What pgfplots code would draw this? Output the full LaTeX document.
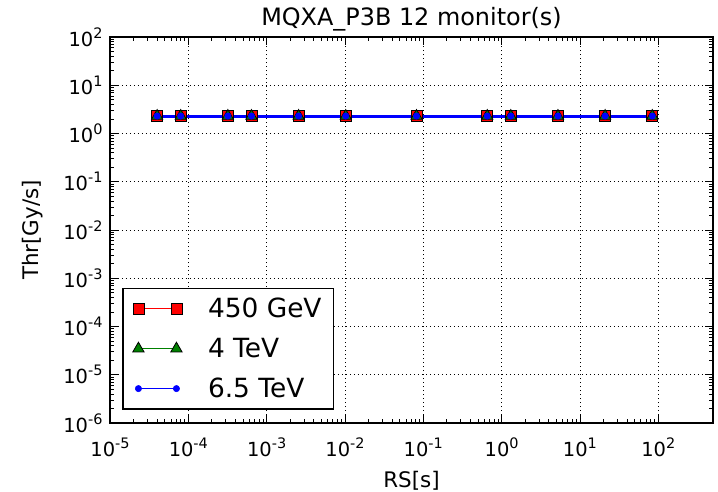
\documentclass[border=0pt]{standalone}
\usepackage{fontspec}
\setmainfont{DejaVu Sans}
\usepackage{pgfplots}
\usepackage{pgfplotstable}
\pgfplotsset{compat=1.18}
\newcommand\sci[1]{10\raisebox{0.42em}{\fontsize{14.5}{14}\selectfont #1}}
\pgfplotstableread{
x y
4e-5 2.3
8e-5 2.3
3.2e-4 2.3
6.4e-4 2.3
2.56e-3 2.3
1.024e-2 2.3
8.192e-2 2.3
0.65536 2.3
1.31072 2.3
5.24288 2.3
20.97152 2.3
83.88608 2.3
}\thr
\begin{document}
\begin{tikzpicture}
\useasboundingbox (-110bp,-69bp) rectangle (608bp,423bp);
\begin{axis}[
  at={(0,0)}, anchor=south west,
  width=603bp, height=386bp, scale only axis,
  xmode=log, ymode=log,
  xmin=1e-5, xmax=500, ymin=1e-6, ymax=1e2,
  xtick={1e-5,1e-4,1e-3,1e-2,1e-1,1,10,100},
  xticklabels={\sci{-5},\sci{-4},\sci{-3},\sci{-2},\sci{-1},\sci{0},\sci{1},\sci{2}},
  ytick={1e-6,1e-5,1e-4,1e-3,1e-2,1e-1,1,10,100},
  yticklabels={\sci{-6},\sci{-5},\sci{-4},\sci{-3},\sci{-2},\sci{-1},\sci{0},\sci{1},\sci{2}},
  tick label style={font=\fontsize{19.5}{24}\selectfont},
  xticklabel style={yshift=-11bp},
  yticklabel style={xshift=-4bp},
  tick align=inside,
  major tick length=8bp, minor tick length=4bp,
  every tick/.style={black, line width=0.8bp},
  axis line style={black, line width=1.5bp},
  grid=major,
  major grid style={black, line width=0.8bp, dash pattern=on 1bp off 3bp},
  title={MQXA\_P3B 12 monitor(s)},
  title style={font=\fontsize{24}{28}\selectfont, at={(0.5,1)}, anchor=base, yshift=6bp},
  xlabel={RS[s]},
  ylabel={Thr[Gy/s]},
  label style={font=\fontsize{21.5}{25}\selectfont},
  xlabel style={yshift=-8bp},
  ylabel style={yshift=14bp},
  legend style={at={(0.02,0.034)}, anchor=south west, draw=black, line width=1.5bp,
    font=\fontsize{26.5}{30}\selectfont, row sep=15bp, column sep=24bp,
    inner xsep=10bp, inner ysep=8bp},
  legend cell align=left,
  legend image code/.code={\draw[line width=1.2bp] plot coordinates {(0bp,0bp) (38bp,0bp)};},
]
\addplot[red, line width=1.2bp, mark=square*, mark size=5.5bp,
  mark options={fill=red, draw=black, line width=0.8bp}] table {\thr};
\addlegendentry{450 GeV}
\addplot[green!50!black, line width=1.2bp, mark=triangle*, mark size=6.5bp,
  mark options={fill=green!50!black, draw=black, line width=0.8bp}] table {\thr};
\addlegendentry{4 TeV}
\addplot[blue, line width=3bp, mark=*, mark size=3.2bp,
  mark options={fill=blue, draw=blue, line width=0.5bp}] table {\thr};
\addlegendentry{6.5 TeV}
\end{axis}
\end{tikzpicture}
\end{document}
